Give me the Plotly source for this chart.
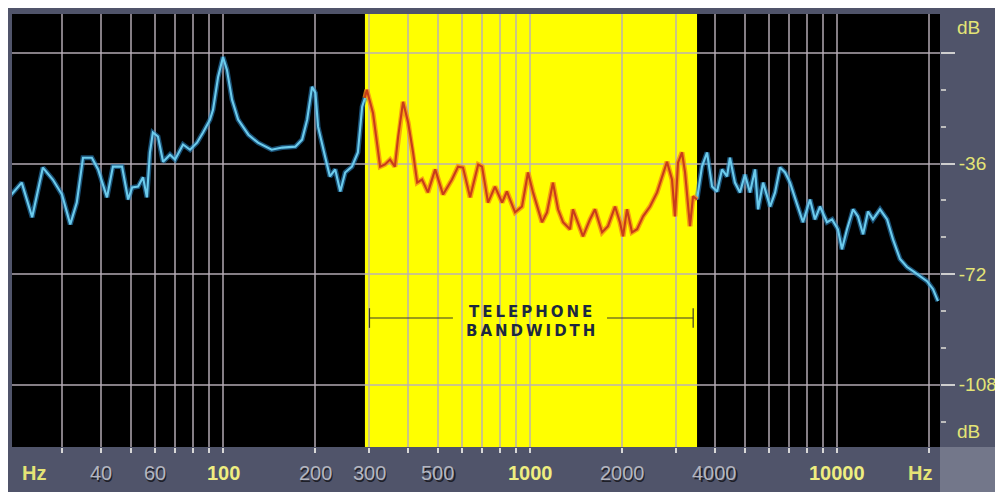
import math
import plotly.graph_objects as go

# ---- data ----
low_hz = [20.2, 22.1, 23.9, 25.9, 27.9, 29.9, 31.8, 33.4, 35.0, 37.4, 39.2, 41.9, 43.8, 46.9,
          49.1, 50.6, 52.9, 54.9, 56.5, 57.8, 59.1, 61.4, 63.8, 67.2, 69.8, 74.1, 78.1, 82.3,
          86.1, 90.7, 92.8, 96.4, 100, 103, 107, 112, 121, 130, 144, 156, 172, 181, 188, 195,
          200, 204, 215, 223, 232, 241, 250, 263, 275, 284, 290]
low_db = [-46.7, -42.2, -53.5, -37.3, -41.2, -46.1, -55.8, -48.7, -34.1, -34.1, -37.9, -47.0,
          -37.0, -37.0, -47.7, -43.8, -43.5, -40.5, -47.0, -32.4, -25.9, -27.2, -35.4, -33.1,
          -34.7, -29.8, -31.5, -29.2, -25.9, -21.7, -18.5, -7.8, -1.3, -5.5, -15.2, -21.7,
          -26.6, -29.2, -31.5, -30.8, -30.5, -28.2, -21.7, -11.0, -13.0, -24.0, -33.7, -40.2,
          -37.9, -45.1, -38.9, -37.0, -32.4, -17.5, -14.6]

band_hz = [290, 294, 308, 325, 337, 350, 363, 372, 386, 401, 416, 429, 445, 465, 491, 521, 557,
           583, 605, 638, 678, 698, 730, 769, 811, 841, 894, 942, 985, 1023, 1094, 1136, 1188,
           1234, 1281, 1350, 1380, 1433, 1488, 1568, 1628, 1717, 1795, 1892, 1963, 2009, 2070,
           2149, 2232, 2335, 2460, 2594, 2692, 2794, 2901, 2966, 3035, 3127, 3199, 3320, 3397,
           3500]
band_db = [-14.6, -12.0, -19.5, -37.0, -36.3, -34.7, -37.0, -27.2, -15.9, -22.7, -32.4, -42.2,
           -41.2, -45.4, -37.9, -46.1, -41.2, -37.0, -37.3, -47.0, -36.3, -37.0, -48.7, -43.5,
           -48.7, -45.1, -51.9, -50.0, -38.9, -45.4, -55.1, -51.9, -42.2, -50.9, -55.1, -57.4,
           -50.9, -55.1, -59.7, -54.2, -50.9, -58.4, -56.4, -50.0, -55.1, -59.7, -50.9, -58.4,
           -57.4, -53.2, -50.0, -45.4, -40.2, -35.4, -41.2, -53.2, -35.7, -32.4, -38.9, -56.4,
           -46.7, -47.7]

high_hz = [3500, 3632, 3773, 3918, 4068, 4222, 4384, 4480, 4651, 4830, 5013, 5208, 5408, 5534,
           5745, 6056, 6285, 6523, 6775, 7031, 7413, 7748, 8168, 8477, 8804, 9276, 9638, 10070,
           10380, 10780, 11280, 11700, 12160, 12620, 13100, 13810, 14560, 15220, 16040, 16910,
           17690, 18630, 19640, 20550, 21320]
high_db = [-47.7, -37.0, -32.4, -43.5, -45.1, -37.9, -40.2, -34.1, -42.2, -45.4, -39.6, -45.4,
           -37.9, -50.9, -42.2, -50.0, -45.4, -37.3, -38.9, -42.2, -49.3, -55.1, -47.7, -54.2,
           -50.0, -55.1, -54.2, -57.4, -63.9, -57.4, -50.9, -53.2, -59.0, -51.6, -54.2, -50.9,
           -54.2, -60.7, -67.1, -69.7, -71.0, -72.7, -74.3, -76.9, -80.8]

shade_lo, shade_hi = 290, 3500          # yellow band
tel_lo, tel_hi = 300, 3400              # telephone bandwidth bracket
grid_hz = [30, 40, 50, 60, 70, 80, 90, 100, 200, 300, 400, 500, 600, 700, 800, 900, 1000,
           2000, 3000, 4000, 5000, 6000, 7000, 8000, 9000, 10000, 20000]
label_hz = [40, 60, 100, 200, 300, 500, 1000, 2000, 4000, 10000]
label_major = [100, 1000, 10000]
db_major = [0, -36, -72, -108]
db_major_text = ["", "-36", "-72", "-108"]
db_minor = [-12, -24, -48, -60, -84, -96, -120]

# ---- figure (page body has an 8px margin, so the figure is 8px smaller) ----
OFF = 8
W, H = 1003 - OFF, 492 - OFF
L, R, T, B = 12 - OFF, 63, 14 - OFF, 45
pw, ph = W - L - R, H - T - B


def px(xs):
    """screen x pixel -> paper x"""
    return (xs - OFF - L) / pw


def py(ys):
    """screen y pixel -> paper y"""
    return (H - B - (ys - OFF)) / ph


fig = go.Figure()

blue_glow = "rgba(40,130,190,0.6)"
blue_core = "#6ccbec"
red_glow = "rgba(245,140,20,0.8)"
red_core = "#c83c1a"

for xs, ys, glow, core in [(low_hz, low_db, blue_glow, blue_core),
                           (high_hz, high_db, blue_glow, blue_core),
                           (band_hz, band_db, red_glow, red_core)]:
    fig.add_trace(go.Scatter(x=xs, y=ys, mode="lines", line=dict(color=glow, width=5),
                             hoverinfo="skip", showlegend=False))
    fig.add_trace(go.Scatter(x=xs, y=ys, mode="lines", line=dict(color=core, width=2.1),
                             showlegend=False))

shapes = [
    dict(type="rect", xref="x", yref="paper", x0=shade_lo, x1=shade_hi, y0=0, y1=1,
         fillcolor="#ffff00", line=dict(width=0), layer="below"),
    # tint the grid inside the band towards yellow
    dict(type="rect", xref="x", yref="paper", x0=shade_lo, x1=shade_hi, y0=0, y1=1,
         fillcolor="#ffff00", opacity=0.45, line=dict(width=0), layer="between"),
    # lighter corner block
    dict(type="rect", xref="paper", yref="paper", x0=1, x1=px(1003), y0=py(492), y1=0,
         fillcolor="#73778a", line=dict(width=0), layer="above"),
]

# telephone bandwidth bracket
br_y = -86.3
br_color = "#3a3a2c"
gap_lo, gap_hi = 561, 1782
shapes += [
    dict(type="line", xref="x", yref="y", x0=tel_lo, x1=gap_lo, y0=br_y, y1=br_y,
         line=dict(color=br_color, width=1.2)),
    dict(type="line", xref="x", yref="y", x0=gap_hi, x1=tel_hi, y0=br_y, y1=br_y,
         line=dict(color=br_color, width=1.2)),
    dict(type="line", xref="x", yref="y", x0=tel_lo, x1=tel_lo, y0=br_y - 3.2, y1=br_y + 3.2,
         line=dict(color=br_color, width=1.2)),
    dict(type="line", xref="x", yref="y", x0=tel_hi, x1=tel_hi, y0=br_y - 3.2, y1=br_y + 3.2,
         line=dict(color=br_color, width=1.2)),
]

ann = []
ts = "\u2009"
for txt, yv in [("TELEPHONE", -84.4), ("BANDWIDTH", -90.6)]:
    ann.append(dict(x=3, y=yv, xref="x", yref="y", text=ts.join(txt), showarrow=False,
                    font=dict(family="DejaVu Sans", size=15, color="#1c2840", weight="bold"),
                    xanchor="center", yanchor="middle"))

lab_y = py(473)
for f in label_hz:
    major = f in label_major
    if not major:
        ann.append(dict(x=math.log10(f), y=lab_y, xref="x", yref="paper", text=str(f),
                        showarrow=False, xshift=1.5, yshift=-1.5,
                        font=dict(family="Liberation Sans", size=20, color="#1e2028"),
                        xanchor="center", yanchor="middle"))
    ann.append(dict(x=math.log10(f), y=lab_y, xref="x", yref="paper", text=str(f),
                    showarrow=False,
                    font=dict(family="Liberation Sans", size=20,
                              color="#eeee80" if major else "#b4b6c0",
                              weight="bold" if major else "normal"),
                    xanchor="center", yanchor="middle"))

yel = "#e4e476"
for xx, txt in [(px(34), "Hz"), (px(920), "Hz")]:
    ann.append(dict(x=xx, y=lab_y, xref="paper", yref="paper", text=txt, showarrow=False,
                    font=dict(family="Liberation Sans", size=20, color=yel, weight="bold"),
                    xanchor="center", yanchor="middle"))
for yy in [py(28), py(431)]:
    ann.append(dict(x=px(968), y=yy, xref="paper", yref="paper", text="dB", showarrow=False,
                    font=dict(family="Liberation Sans", size=19, color=yel),
                    xanchor="center", yanchor="middle"))

grid_col = "rgba(185,175,185,0.72)"
fig.update_layout(
    width=W, height=H,
    margin=dict(l=L, r=R, t=T, b=B, pad=0),
    paper_bgcolor="#50546a",
    plot_bgcolor="black",
    shapes=shapes,
    annotations=ann,
    showlegend=False,
    xaxis=dict(type="log", range=[1.3127, 4.3355], tickvals=grid_hz, showticklabels=False,
               ticks="outside", ticklen=5, tickcolor="#d8d8d8", tickwidth=1.5,
               showgrid=True, gridcolor=grid_col, gridwidth=1.5, zeroline=False,
               showline=False, fixedrange=True),
    yaxis=dict(range=[-128.3, 12.7], side="right", tickvals=db_major, ticktext=db_major_text,
               ticks="outside", ticklen=14, tickcolor="#cfcfcf", tickwidth=1.5,
               tickfont=dict(family="Liberation Sans", size=19, color=yel),
               showgrid=True, gridcolor=grid_col, gridwidth=1.5, zeroline=False,
               showline=False,
               minor=dict(tickvals=db_minor, ticks="outside", ticklen=5, tickcolor="#bdbdbd",
                          showgrid=False),
               fixedrange=True),
)

fig.write_html("out.html")
